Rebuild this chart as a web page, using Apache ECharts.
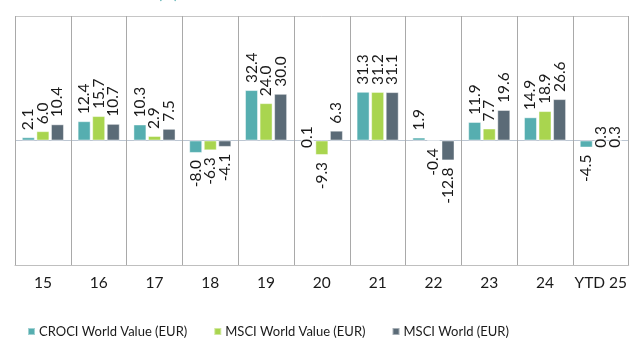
<!DOCTYPE html>
<html>
<head>
<meta charset="utf-8">
<script src="https://cdn.jsdelivr.net/npm/echarts@6/dist/echarts.min.js"></script>
<style>
  html, body { margin: 0; padding: 0; background: #fff; }
  #chart { width: 630px; height: 340px; }
</style>
</head>
<body>
<div id="chart"></div>
<script>
// Calendar-year returns (%), by year
const categories = ['15', '16', '17', '18', '19', '20', '21', '22', '23', '24', 'YTD 25'];
const seriesNames = ['CROCI World Value (EUR)', 'MSCI World Value (EUR)', 'MSCI World (EUR)'];
const crociWorldValue = [2.1, 12.4, 10.3, -8.0, 32.4, 0.1, 31.3, 1.9, 11.9, 14.9, -4.5];
const msciWorldValue = [6.0, 15.7, 2.9, -6.3, 24.0, -9.3, 31.2, -0.4, 7.7, 18.9, 0.3];
const msciWorld = [10.4, 10.7, 7.5, -4.1, 30.0, 6.3, 31.1, -12.8, 19.6, 26.6, 0.3];
const colors = ['#56AEB0', '#A9D54F', '#5B6B77'];

const FONT = 'Lato';

// Labels sit outside each bar, rotated to read upwards
function withLabels(values) {
  return values.map(v => ({
    value: v,
    label: {
      position: 'outside',
      align: v < 0 ? 'right' : 'left',
      verticalAlign: 'middle'
    }
  }));
}

function barSeries(name, values, color) {
  return {
    name: name,
    type: 'bar',
    data: withLabels(values),
    barWidth: 13,
    barGap: '12%',
    itemStyle: { color: color, borderColor: 'rgba(255,255,255,0.45)', borderWidth: 1 },
    label: {
      show: true,
      rotate: 90,
      distance: 7,
      color: '#1a1a1a',
      fontFamily: FONT,
      fontSize: 15.5,
      formatter: p => p.value.toFixed(1)
    }
  };
}

const chart = echarts.init(document.getElementById('chart'), null, { renderer: 'canvas' });
chart.setOption({
  animation: false,
  color: colors,
  textStyle: { fontFamily: FONT },
  title: {
    text: '(%)',
    left: 153,
    top: -18,
    textStyle: { color: '#56AEB0', fontFamily: FONT, fontSize: 15, fontWeight: 'normal' }
  },
  grid: { left: 15, top: 16, width: 616, height: 249, containLabel: false },
  legend: {
    top: 325,
    left: 27,
    padding: 0,
    icon: 'rect',
    itemWidth: 7,
    itemHeight: 7,
    itemGap: 26,
    textStyle: { fontFamily: FONT, fontSize: 13, color: '#1a1a1a', padding: [0, 0, 0, -1] },
    data: seriesNames
  },
  xAxis: {
    type: 'category',
    data: categories,
    position: 'bottom',
    axisLine: { onZero: false, lineStyle: { color: '#bfbfbf', width: 1 } },
    axisTick: { show: false },
    axisLabel: { interval: 0, color: '#1a1a1a', fontFamily: FONT, fontSize: 15.5, margin: 10 },
    splitLine: { show: true, interval: 0, lineStyle: { color: '#a9a9a9', width: 1 } }
  },
  yAxis: {
    type: 'value',
    min: -80,
    max: 80,
    interval: 80,
    axisLine: { show: false },
    axisTick: { show: false },
    axisLabel: { show: false },
    splitLine: { show: true, lineStyle: { color: ['#c6c6c6', '#bcc6d2', '#c6c6c6'], width: 1 } }
  },
  series: [
    barSeries(seriesNames[0], crociWorldValue, colors[0]),
    barSeries(seriesNames[1], msciWorldValue, colors[1]),
    barSeries(seriesNames[2], msciWorld, colors[2])
  ]
});
</script>
</body>
</html>
